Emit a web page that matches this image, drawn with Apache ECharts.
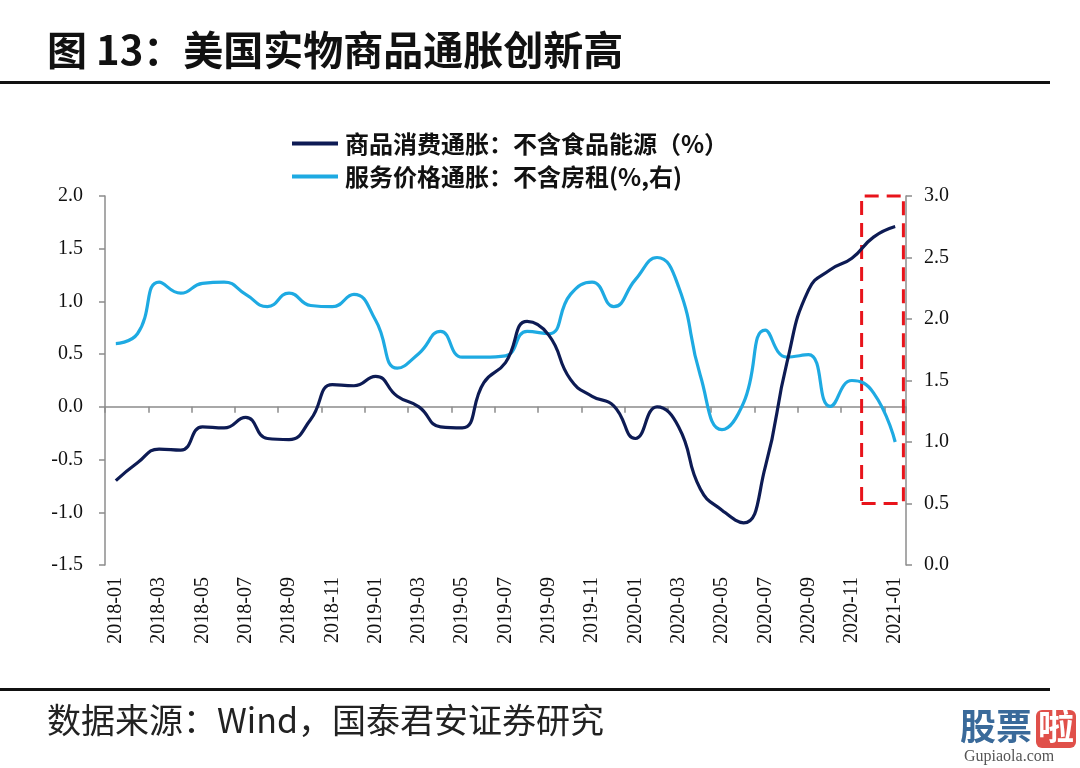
<!DOCTYPE html>
<html>
<head>
<meta charset="utf-8">
<script src="https://cdn.jsdelivr.net/npm/echarts@6/dist/echarts.min.js"></script>
<style>
html,body{margin:0;padding:0;background:#fff;}
#chart{width:1080px;height:768px;}
</style>
</head>
<body>
<div id="chart"></div>
<script>
// ---- data ----
const months = [
  '2018-01','2018-02','2018-03','2018-04','2018-05','2018-06','2018-07','2018-08','2018-09','2018-10','2018-11','2018-12',
  '2019-01','2019-02','2019-03','2019-04','2019-05','2019-06','2019-07','2019-08','2019-09','2019-10','2019-11','2019-12',
  '2020-01','2020-02','2020-03','2020-04','2020-05','2020-06','2020-07','2020-08','2020-09','2020-10','2020-11','2020-12',
  '2021-01'
];
// 商品消费通胀：不含食品能源（%） left axis
const goodsCore = [
  -0.70,-0.53,-0.40,-0.41,-0.19,-0.20,-0.10,-0.30,-0.31,-0.12,0.21,0.20,
  0.29,0.10,0.00,-0.19,-0.20,0.23,0.42,0.81,0.68,0.26,0.10,0.01,
  -0.30,0.00,-0.19,-0.78,-0.98,-1.10,-0.57,0.42,1.11,1.30,1.41,1.61,
  1.71
];
// 服务价格通胀：不含房租(%,右) right axis
const servicesExRent = [
  1.80,1.88,2.30,2.21,2.29,2.30,2.20,2.10,2.21,2.11,2.10,2.20,
  1.99,1.60,1.72,1.90,1.69,1.69,1.70,1.90,1.88,2.20,2.30,2.10,
  2.32,2.50,2.26,1.54,1.10,1.32,1.91,1.69,1.71,1.29,1.50,1.40,
  1.00
];
const leftTicks = {min: -1.5, max: 2.0, interval: 0.5};
const rightTicks = {min: 0.0, max: 3.0, interval: 0.5};
// highlighted window (month index, right-axis value)
const highlightX = [34.45, 36.38];
const highlightY = [0.5, 3.0];

const seriesNames = ['商品消费通胀：不含食品能源（%）', '服务价格通胀：不含房租(%,右)'];
const colors = ['#0d1b54', '#1eaae2'];

const chart = echarts.init(document.getElementById('chart'));
const serif = '"Liberation Serif","Times New Roman",serif';
const cjk = '"Noto Sans CJK SC","Noto Sans",sans-serif';
const axisGray = '#8c8c8c';

const option = {
  animation: false,
  backgroundColor: '#fff',
  grid: {left: 105, right: 174, top: 196, bottom: 203, containLabel: false},
  legend: {
    orient: 'vertical',
    left: 287, top: 126,
    icon: 'rect', itemWidth: 46, itemHeight: 4, itemGap: 8, itemStyle: {borderWidth: 0},
    data: seriesNames,
    textStyle: {fontFamily: cjk, fontWeight: 'bold', fontSize: 24, color: '#111', lineHeight: 25, padding: [0, 0, 0, 2]}
  },
  xAxis: [
    {
      type: 'category', data: months, boundaryGap: true, position: 'bottom',
      axisLine: {show: false}, axisTick: {show: false}, splitLine: {show: false},
      axisLabel: {interval: 1, rotate: 90, margin: 12, fontFamily: serif, fontSize: 20, color: '#111'}
    },
    {
      type: 'category', data: months, boundaryGap: true, position: 'bottom',
      axisLine: {show: true, onZero: true, onZeroAxisIndex: 0, lineStyle: {color: axisGray, width: 1.5}},
      axisTick: {show: true, interval: 1, length: 6, lineStyle: {color: axisGray, width: 1.5}},
      axisLabel: {show: false}, splitLine: {show: false}
    },
    {type: 'value', min: -0.5, max: months.length - 0.5, show: false}
  ],
  yAxis: [
    {
      type: 'value', position: 'left', min: leftTicks.min, max: leftTicks.max, interval: leftTicks.interval,
      axisLine: {show: true, onZero: false, lineStyle: {color: axisGray, width: 1.5}},
      axisTick: {show: true, length: 6, lineStyle: {color: axisGray, width: 1.5}},
      splitLine: {show: false},
      axisLabel: {margin: 22, fontFamily: serif, fontSize: 20, color: '#111', formatter: v => v.toFixed(1)}
    },
    {
      type: 'value', position: 'right', min: rightTicks.min, max: rightTicks.max, interval: rightTicks.interval,
      axisLine: {show: true, onZero: false, lineStyle: {color: axisGray, width: 1.5}},
      axisTick: {show: true, length: 6, lineStyle: {color: axisGray, width: 1.5}},
      splitLine: {show: false},
      axisLabel: {margin: 18, fontFamily: serif, fontSize: 20, color: '#111', formatter: v => v.toFixed(1)}
    }
  ],
  series: [
    {
      name: seriesNames[0], type: 'line', xAxisIndex: 0, yAxisIndex: 0,
      data: goodsCore, smooth: 0.5, symbol: 'none',
      lineStyle: {width: 3.2, color: colors[0]}, itemStyle: {color: colors[0]}, z: 3
    },
    {
      name: seriesNames[1], type: 'line', xAxisIndex: 0, yAxisIndex: 1,
      data: servicesExRent, smooth: 0.5, symbol: 'none',
      lineStyle: {width: 3.2, color: colors[1]}, itemStyle: {color: colors[1]}, z: 2
    },
    {
      name: 'highlight', type: 'line', xAxisIndex: 2, yAxisIndex: 1, data: [],
      symbol: 'none', lineStyle: {opacity: 0}, silent: true,
      markArea: {
        silent: true,
        itemStyle: {color: 'rgba(0,0,0,0)', borderColor: '#e8141b', borderWidth: 3, borderType: [14, 8]},
        data: [[{coord: [highlightX[0], highlightY[0]]}, {coord: [highlightX[1], highlightY[1]]}]]
      }
    }
  ],
  graphic: [
    {type: 'text', left: 47, top: 30, style: {text: '图 13：美国实物商品通胀创新高', font: 'bold 40px ' + cjk, fill: '#111'}},
    {type: 'rect', shape: {x: 0, y: 81, width: 1050, height: 3}, style: {fill: '#111'}},
    {type: 'rect', shape: {x: 0, y: 688, width: 1050, height: 3}, style: {fill: '#111'}},
    {type: 'text', left: 47, top: 703, style: {text: '数据来源：Wind，国泰君安证券研究', font: '34px ' + cjk, fill: '#222'}},
    {type: 'text', left: 960, top: 708, style: {text: '股票', font: 'bold 36px ' + cjk, fill: '#3a6a9a'}},
    {type: 'rect', shape: {x: 1036, y: 710, width: 40, height: 38, r: 6}, style: {fill: '#e0504a'}},
    {type: 'text', left: 1038, top: 708, style: {text: '啦', font: 'bold 36px ' + cjk, fill: '#fff'}},
    {type: 'text', left: 964, top: 749, style: {text: 'Gupiaola.com', font: '16px ' + serif, fill: '#555'}}
  ]
};
chart.setOption(option);
</script>
</body>
</html>
